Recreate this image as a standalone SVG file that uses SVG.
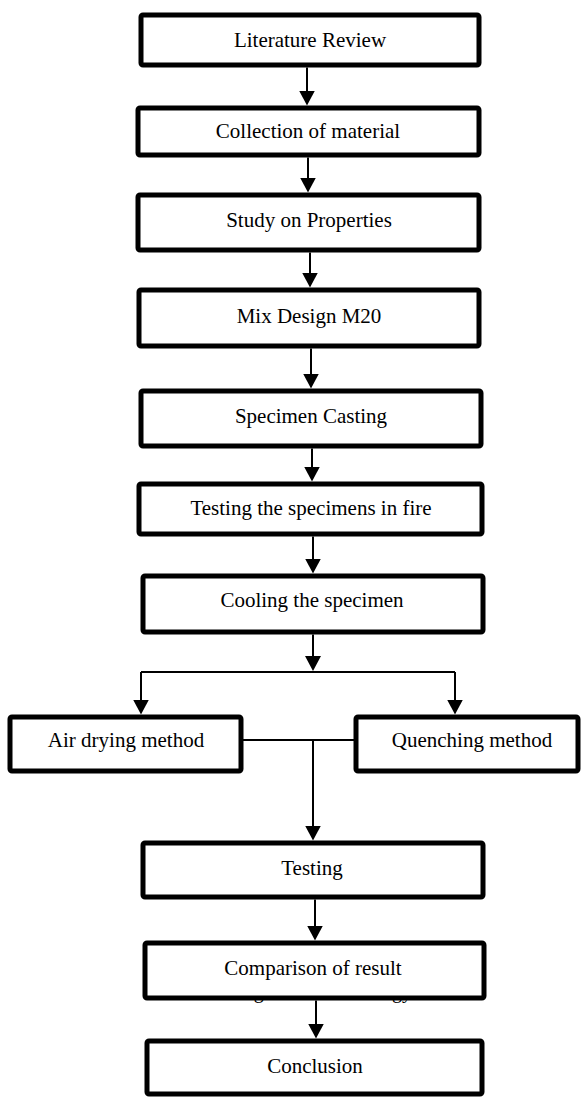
<svg xmlns="http://www.w3.org/2000/svg" width="585" height="1098" viewBox="0 0 585 1098">
<style>
.box{fill:#fff;stroke:#000;stroke-width:5;}
.lbl{font-family:"Liberation Serif","Times New Roman",serif;font-size:21px;fill:#000;text-anchor:middle;}
.cap{font-family:"Liberation Serif","Times New Roman",serif;font-size:20px;fill:#000;}
.ln{stroke:#000;stroke-width:2;fill:none;}
.ar{stroke:#000;stroke-width:2;fill:none;marker-end:url(#ah);}
</style>
<defs>
<marker id="ah" markerUnits="userSpaceOnUse" markerWidth="16" markerHeight="16" refX="12" refY="8" orient="auto" viewBox="0 0 16 16">
<path d="M0,0 L15,8 L0,16 z" fill="#000"/>
</marker>
</defs>
<rect width="585" height="1098" fill="#fff"/>
<g id="connectors">
<line class="ar" x1="307" y1="67.5" x2="307" y2="102.5"/>
<line class="ar" x1="308" y1="157.5" x2="308" y2="189.5"/>
<line class="ar" x1="310" y1="252.5" x2="310" y2="284.5"/>
<line class="ar" x1="311" y1="348.5" x2="311" y2="385.5"/>
<line class="ar" x1="312" y1="448.5" x2="312" y2="478.5"/>
<line class="ar" x1="313" y1="536.5" x2="313" y2="570.5"/>
<line class="ar" x1="313" y1="634.5" x2="313" y2="668"/>
<line class="ln" x1="141" y1="672" x2="455" y2="672"/>
<line class="ar" x1="141" y1="672" x2="141" y2="711.5"/>
<line class="ar" x1="455" y1="672" x2="455" y2="711.5"/>
<line class="ln" x1="241" y1="740" x2="356" y2="740"/>
<line class="ar" x1="313" y1="740" x2="313" y2="837.5"/>
<line class="ar" x1="315" y1="899.5" x2="315" y2="937.5"/>
<line class="ar" x1="316" y1="1000.5" x2="316" y2="1035.5"/>
</g>
<g id="caption">
<text class="cap" x="237" y="997.5">Fig 3.1: Methodology</text>
</g>
<g id="n1"><rect class="box" x="141" y="15" width="338" height="50" rx="2"/><text class="lbl" x="310" y="47">Literature Review</text></g>
<g id="n2"><rect class="box" x="138" y="108" width="341" height="47" rx="2"/><text class="lbl" x="308" y="138">Collection of material</text></g>
<g id="n3"><rect class="box" x="138" y="195" width="341" height="55" rx="2"/><text class="lbl" x="309" y="227">Study on Properties</text></g>
<g id="n4"><rect class="box" x="139" y="290" width="340" height="56" rx="2"/><text class="lbl" x="309" y="323">Mix Design M20</text></g>
<g id="n5"><rect class="box" x="141" y="391" width="340" height="55" rx="2"/><text class="lbl" x="311" y="423">Specimen Casting</text></g>
<g id="n6"><rect class="box" x="139" y="484" width="343" height="50" rx="2"/><text class="lbl" x="311" y="515">Testing the specimens in fire</text></g>
<g id="n7"><rect class="box" x="143" y="576" width="340" height="56" rx="2"/><text class="lbl" x="312" y="607">Cooling the specimen</text></g>
<g id="n8"><rect class="box" x="10" y="717" width="231" height="54" rx="2"/><text class="lbl" x="126" y="747">Air drying method</text></g>
<g id="n9"><rect class="box" x="356" y="717" width="222" height="54" rx="2"/><text class="lbl" x="472" y="747">Quenching method</text></g>
<g id="n10"><rect class="box" x="143" y="843" width="340" height="54" rx="2"/><text class="lbl" x="312" y="875">Testing</text></g>
<g id="n11"><rect class="box" x="145" y="943" width="339" height="55" rx="2"/><text class="lbl" x="313" y="975">Comparison of result</text></g>
<g id="n12"><rect class="box" x="147" y="1041" width="335" height="53" rx="2"/><text class="lbl" x="315" y="1073">Conclusion</text></g>
</svg>
